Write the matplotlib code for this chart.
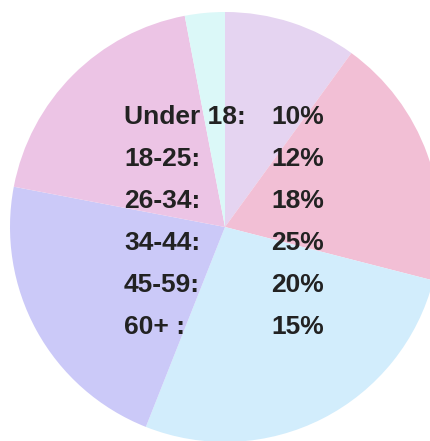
import matplotlib
matplotlib.use("Agg")
import matplotlib.pyplot as plt

# slice shares (clockwise from 12 o'clock)
slice_values = [10, 19, 27, 22, 19, 3]
slice_colors = ["#e5d4f1", "#f2bfd5", "#d2edfc", "#cbc9f8", "#ecc4e5", "#dbf8f8"]

# text block drawn over the pie
age_groups = ["Under 18:", "18-25:", "26-34:", "34-44:", "45-59:", "60+ :"]
shares = ["10%", "12%", "18%", "25%", "20%", "15%"]

fig = plt.figure(figsize=(4.30, 4.41), dpi=100)
ax = fig.add_axes([0, 0, 1, 1])

# axes units are pixels, pie centre at (0, 0)
ax.pie(slice_values, colors=slice_colors, startangle=90, counterclock=False,
       radius=215, center=(0, 0), frame=True)
ax.set_xlim(-225, 205)
ax.set_ylim(-214, 227)
ax.set_aspect("equal")
ax.axis("off")

row_y = 110
for label, share in zip(age_groups, shares):
    ax.text(-101, row_y, label, ha="left", va="center", fontsize=19,
            fontweight="bold", family="Liberation Sans", color="#222222")
    ax.text(73, row_y, share, ha="center", va="center", fontsize=19,
            fontweight="bold", family="Liberation Sans", color="#222222")
    row_y -= 42

fig.savefig("out.png", dpi=100)
